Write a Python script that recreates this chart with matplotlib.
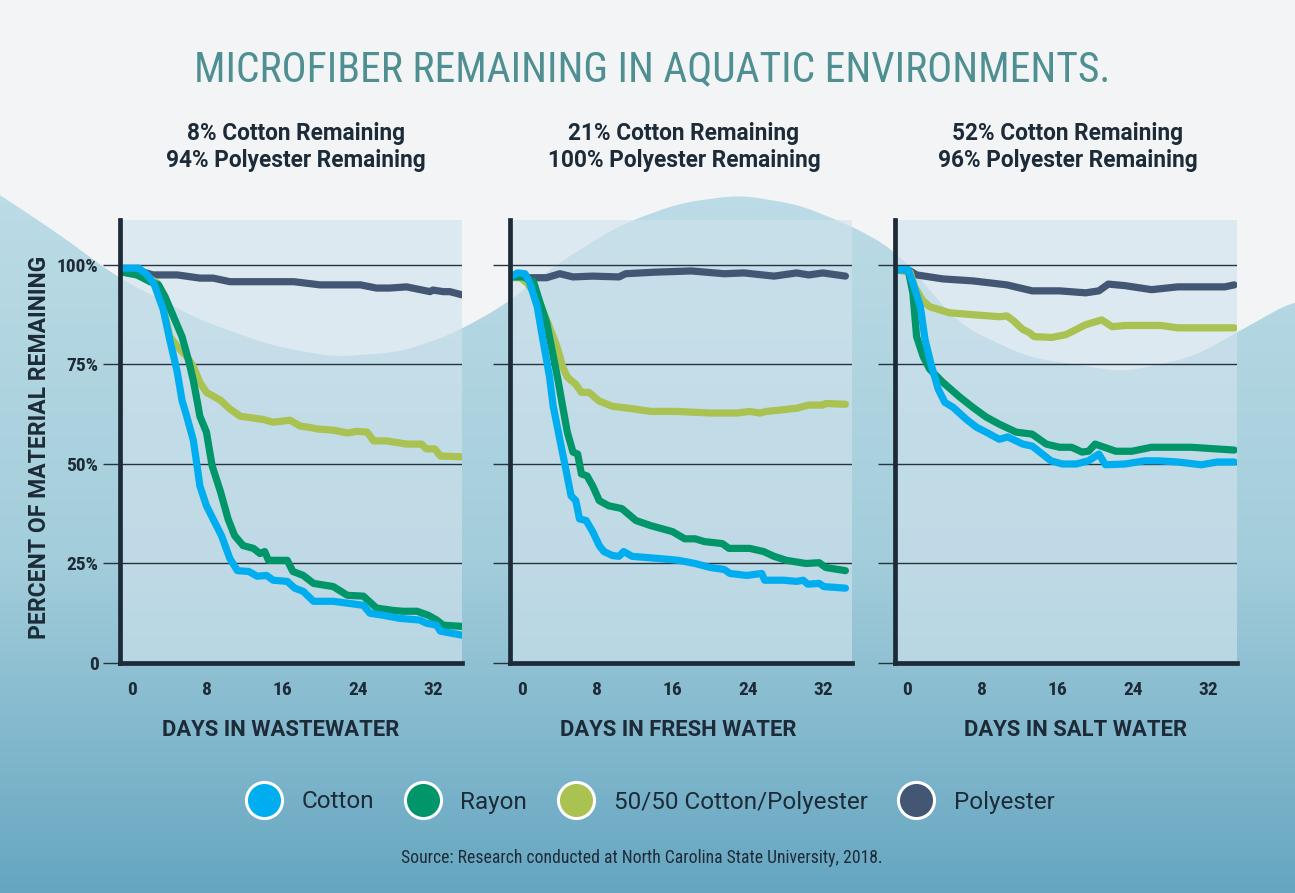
import numpy as np
import matplotlib
matplotlib.use('Agg')
import matplotlib.pyplot as plt
from matplotlib import font_manager
from matplotlib.lines import Line2D

# fonts: pick what is installed
installed = {f.name for f in font_manager.fontManager.ttflist}
def pick(*names):
    for n in names:
        if n in installed:
            return n
    return 'DejaVu Sans'

base_font = pick('Roboto', 'Inter', 'DejaVu Sans')
narrow_font = pick('Roboto Condensed', 'Liberation Sans Narrow', 'Roboto')
plt.rcParams['font.family'] = [base_font, 'DejaVu Sans']

# ---- data (days, percent remaining) ----
series_names = ['Cotton', 'Rayon', '50/50 Cotton/Polyester', 'Polyester']
series_colors = ['#00aeef', '#00966a', '#a9c251', '#435775']

panel_titles = ['8% Cotton Remaining\n94% Polyester Remaining',
                '21% Cotton Remaining\n100% Polyester Remaining',
                '52% Cotton Remaining\n96% Polyester Remaining']
panel_xlabels = ['DAYS IN WASTEWATER', 'DAYS IN FRESH WATER', 'DAYS IN SALT WATER']
x_ticks = [0, 8, 16, 24, 32]
y_ticks = [0, 25, 50, 75, 100]
y_ticklabels = ['0', '25%', '50%', '75%', '100%']

# wastewater
waste_cotton_days = [-1.25, 0.7, 1.6, 2.3, 3.3, 4.0, 4.8, 5.3, 5.8, 6.5, 6.9, 7.2, 7.9, 8.6, 9.5, 10.4, 11.2,
                     12.4, 13.3, 14.3, 15.0, 16.5, 17.3, 18.2, 19.3, 21.4, 24.6, 25.3, 26.7, 28.5, 30.6, 31.3,
                     32.4, 32.8, 35.1]
waste_cotton_pct = [99.2, 99.2, 97.5, 95.4, 88.8, 81.2, 73.0, 66.0, 62.0, 56.0, 49.6, 44.5, 39.5, 36.2, 32.0,
                    26.2, 23.2, 23.0, 21.8, 22.0, 20.8, 20.5, 18.8, 18.0, 15.5, 15.5, 14.5, 12.5, 12.0, 11.2,
                    10.8, 10.0, 9.5, 8.0, 7.0]
waste_rayon_days = [-1.25, 0.5, 1.9, 2.8, 3.5, 4.4, 5.3, 6.0, 6.5, 6.9, 7.2, 7.9, 8.5, 9.4, 10.2, 10.9, 11.8,
                    12.9, 13.6, 14.1, 14.5, 16.5, 17.1, 18.2, 19.3, 21.4, 22.9, 24.6, 26.0, 27.8, 28.8, 30.3,
                    31.5, 32.4, 33.1, 35.1]
waste_rayon_pct = [98.3, 97.5, 95.8, 95.0, 92.0, 87.0, 82.0, 76.0, 71.0, 66.0, 62.0, 58.0, 49.6, 43.0, 36.2,
                   32.0, 29.5, 28.8, 27.5, 28.0, 25.8, 25.8, 23.0, 22.0, 20.0, 19.2, 17.0, 16.8, 13.8, 13.2,
                   13.0, 13.0, 12.0, 10.8, 9.5, 9.2]
waste_blend_days = [-1.25, 1.6, 2.7, 3.3, 4.0, 4.8, 5.8, 6.5, 7.2, 7.9, 9.4, 10.4, 11.5, 13.9, 15.0, 16.8, 17.9,
                    18.9, 19.7, 21.4, 22.9, 23.9, 25.0, 25.7, 27.1, 29.2, 30.8, 31.3, 32.2, 32.8, 35.1]
waste_blend_pct = [98.3, 97.0, 95.4, 89.5, 82.0, 79.5, 77.0, 74.5, 70.5, 68.0, 66.0, 63.8, 62.0, 61.2, 60.5,
                   61.0, 59.5, 59.2, 58.8, 58.5, 57.8, 58.2, 58.0, 55.8, 55.8, 55.0, 55.0, 53.8, 53.8, 52.0, 51.8]
waste_poly_days = [-1.25, 1.2, 2.2, 4.8, 7.2, 8.6, 10.4, 17.2, 20.0, 24.3, 26.0, 27.4, 29.2, 31.7, 32.0, 33.1,
                   33.8, 35.1]
waste_poly_pct = [98.8, 98.2, 97.5, 97.5, 96.7, 96.7, 95.8, 95.8, 95.0, 95.0, 94.2, 94.2, 94.5, 93.3, 93.7,
                  93.3, 93.3, 92.5]

# fresh water
fresh_cotton_days = [-1.25, -0.5, 0.3, 0.8, 1.6, 2.2, 2.9, 3.3, 4.0, 4.7, 5.2, 5.7, 6.1, 6.8, 7.5, 8.2, 8.7,
                     9.6, 10.3, 10.8, 11.7, 14.8, 16.6, 18.4, 20.0, 21.5, 22.1, 23.9, 25.5, 25.8, 27.8, 29.2,
                     29.9, 30.4, 31.6, 32.1, 34.4]
fresh_cotton_pct = [97.0, 98.0, 97.8, 95.5, 89.5, 81.2, 72.0, 64.5, 56.2, 48.0, 42.0, 40.8, 36.2, 35.8, 33.0,
                    29.5, 28.0, 27.0, 26.8, 28.0, 26.8, 26.2, 25.8, 25.0, 24.0, 23.5, 22.5, 22.0, 22.5, 20.8,
                    20.8, 20.5, 20.8, 19.8, 20.0, 19.2, 18.8]
fresh_rayon_days = [-1.25, 0.1, 1.2, 1.9, 2.6, 3.1, 3.8, 4.3, 4.8, 5.4, 5.9, 6.3, 6.9, 7.5, 8.2, 9.2, 10.6, 12.1,
                    13.7, 16.0, 17.3, 18.4, 19.4, 21.3, 22.0, 24.2, 25.7, 26.8, 28.1, 30.2, 31.6, 32.3, 34.4]
fresh_rayon_pct = [97.0, 97.0, 95.8, 90.5, 85.5, 79.5, 71.2, 64.5, 58.0, 53.0, 52.5, 47.5, 47.0, 44.5, 40.8,
                   39.5, 38.8, 35.8, 34.5, 33.0, 31.2, 31.2, 30.5, 30.0, 28.8, 28.8, 28.0, 26.8, 25.8, 25.0,
                   25.2, 24.0, 23.2]
fresh_blend_days = [-1.25, -0.2, 0.5, 1.6, 2.6, 3.7, 4.3, 4.8, 5.7, 6.3, 7.1, 8.2, 9.6, 11.3, 13.7, 16.6, 20.0,
                    22.9, 24.2, 25.3, 26.0, 29.2, 30.5, 32.0, 32.3, 34.4]
fresh_blend_pct = [96.8, 96.8, 95.5, 92.0, 86.2, 79.5, 74.5, 71.8, 70.0, 68.0, 68.0, 65.8, 64.5, 64.0, 63.2,
                   63.2, 62.8, 62.8, 63.2, 62.8, 63.2, 64.0, 64.8, 64.8, 65.2, 65.0]
fresh_poly_days = [-1.25, 0.1, 2.6, 4.0, 5.4, 7.5, 10.3, 11.0, 14.2, 18.0, 21.5, 23.6, 26.8, 29.2, 30.5, 32.0, 34.4]
fresh_poly_pct = [97.5, 96.8, 96.8, 97.8, 97.0, 97.2, 97.0, 97.8, 98.2, 98.5, 97.8, 98.0, 97.2, 98.0, 97.5,
                  98.0, 97.2]

# salt water
salt_cotton_days = [-1.25, 0.1, 0.6, 1.4, 1.9, 2.6, 3.3, 4.0, 4.9, 6.3, 7.4, 8.4, 9.8, 10.7, 12.3, 13.3, 15.3,
                    16.5, 18.0, 19.3, 20.4, 21.1, 23.2, 25.3, 26.7, 28.8, 31.3, 33.0, 34.8]
salt_cotton_pct = [98.8, 98.8, 95.5, 89.5, 81.2, 74.5, 68.8, 65.5, 64.2, 61.2, 59.2, 58.0, 56.2, 56.8, 55.0,
                   54.5, 50.8, 50.0, 50.0, 50.8, 52.5, 49.8, 50.0, 50.8, 50.8, 50.5, 49.8, 50.5, 50.5]
salt_rayon_days = [-1.25, 0.1, 0.6, 1.0, 1.7, 2.4, 3.8, 5.6, 7.0, 8.4, 9.8, 11.6, 13.3, 14.8, 16.2, 17.5, 18.6,
                   19.3, 20.0, 22.2, 23.9, 26.0, 30.2, 34.8]
salt_rayon_pct = [98.8, 98.8, 93.0, 82.0, 77.0, 73.8, 70.5, 66.8, 64.2, 61.8, 60.0, 58.0, 57.5, 55.0, 54.2,
                  54.2, 53.0, 53.2, 55.0, 53.2, 53.2, 54.2, 54.2, 53.5]
salt_blend_days = [-1.25, 0.3, 0.8, 1.6, 2.4, 4.5, 7.0, 9.8, 10.6, 11.2, 12.3, 13.0, 13.5, 15.4, 16.9, 19.0,
                   20.7, 21.8, 23.2, 27.0, 28.8, 34.8]
salt_blend_pct = [98.8, 98.2, 94.5, 91.2, 89.5, 88.0, 87.5, 87.0, 87.2, 86.2, 83.8, 83.0, 82.0, 81.8, 82.5,
                  85.0, 86.2, 84.5, 84.8, 84.8, 84.2, 84.2]
salt_poly_days = [-1.25, 0.3, 1.0, 3.8, 7.0, 10.6, 13.3, 16.2, 19.0, 20.4, 21.4, 23.2, 26.0, 28.8, 31.7, 33.8, 34.8]
salt_poly_pct = [98.8, 98.5, 97.5, 96.5, 96.0, 95.0, 93.5, 93.5, 93.0, 93.5, 95.2, 94.8, 93.8, 94.5, 94.5,
                 94.5, 95.0]

panel_series = [
    [(waste_cotton_days, waste_cotton_pct), (waste_rayon_days, waste_rayon_pct),
     (waste_blend_days, waste_blend_pct), (waste_poly_days, waste_poly_pct)],
    [(fresh_cotton_days, fresh_cotton_pct), (fresh_rayon_days, fresh_rayon_pct),
     (fresh_blend_days, fresh_blend_pct), (fresh_poly_days, fresh_poly_pct)],
    [(salt_cotton_days, salt_cotton_pct), (salt_rayon_days, salt_rayon_pct),
     (salt_blend_days, salt_blend_pct), (salt_poly_days, salt_poly_pct)],
]

# ---- figure ----
W, H = 1295, 893
fig = plt.figure(figsize=(W / 100, H / 100), dpi=100)
dark = '#1d2b38'

# background: blue gradient with a light grey wave on top
bg = fig.add_axes([0, 0, 1, 1], zorder=-10)
bg.set_xlim(0, W)
bg.set_ylim(H, 0)
bg.axis('off')
rows = np.linspace(0, H, 300)
stops_y = [0, 190, 560, 893]
stops_c = [np.array([0xbc, 0xdc, 0xe6]), np.array([0xbc, 0xdc, 0xe6]),
           np.array([0xa3, 0xcd, 0xdb]), np.array([0x66, 0xa6, 0xc1])]
grad = np.zeros((len(rows), 1, 3))
for k in range(3):
    grad[:, 0, k] = np.interp(rows, stops_y, [c[k] for c in stops_c]) / 255
bg.imshow(grad, extent=(0, W, H, 0), aspect='auto')
wave_x = [-40, 0, 60, 117, 200, 270, 333, 400, 450, 500, 560, 620, 680, 740, 800, 860, 897, 960, 1027, 1123, 1193, 1295]
wave_y = [170, 195, 235, 277, 320, 345, 357, 352, 335, 308, 262, 225, 203, 195, 205, 230, 252, 325, 357, 372, 357, 300]
xs = np.arange(-60, W + 61)
ys = np.interp(xs, wave_x, wave_y)
ys = np.convolve(ys, np.ones(41) / 41, mode='same')
keep = (xs >= 0) & (xs <= W)
bg.fill_between(xs[keep], 0, ys[keep], color='#f2f4f6', lw=0)

# title and texts
fig.text(0.5035, 1 - 70 / H, 'MICROFIBER REMAINING IN AQUATIC ENVIRONMENTS.', family=[narrow_font, 'DejaVu Sans'],
         fontsize=30, color='#4f8f92', ha='center', va='center')
fig.text(40 / W, 1 - 447 / H, 'PERCENT OF MATERIAL REMAINING', rotation=90, fontsize=16.5,
         fontweight='bold', color=dark, ha='center', va='center')

ax_left = [120, 510, 895]
ax_width = 342
ax_top, ax_bottom = 220, 663
title_cx = [296, 684, 1068]
xlabel_cx = [281, 678, 1076]

for i in range(3):
    ax = fig.add_axes([ax_left[i] / W, 1 - ax_bottom / H, ax_width / W, (ax_bottom - ax_top) / H])
    ax.set_facecolor((0.82, 0.89, 0.93, 0.62))
    for (days, pct), color in list(zip(panel_series[i], series_colors))[::-1]:
        ax.plot(days, pct, color=color, lw=5.2, solid_capstyle='round', solid_joinstyle='round')
    ax.set_xlim(-1.3, 35.1)
    ax.set_ylim(0, 111.3)
    ax.set_axisbelow(True)
    ax.set_yticks(y_ticks)
    ax.grid(axis='y', color='#26343f', lw=1)
    ax.set_xticks(x_ticks)
    ax.tick_params(axis='y', length=12.5, width=1, color='#26343f', pad=3, labelcolor=dark)
    ax.tick_params(axis='x', length=0, pad=13, labelcolor=dark)
    if i == 0:
        ax.set_yticklabels(y_ticklabels)
    else:
        ax.set_yticklabels([])
    for lab in ax.get_xticklabels() + ax.get_yticklabels():
        lab.set_family([narrow_font, 'DejaVu Sans'])
        lab.set_fontweight('bold')
        lab.set_fontsize(14)
    for s in ['top', 'right']:
        ax.spines[s].set_visible(False)
    for s in ['left', 'bottom']:
        ax.spines[s].set_linewidth(3.4)
        ax.spines[s].set_color(dark)
    fig.text(title_cx[i] / W, 1 - 147 / H, panel_titles[i], fontsize=16.3, fontweight='bold',
             color=dark, ha='center', va='center', linespacing=1.25)
    fig.text(xlabel_cx[i] / W, 1 - 730 / H, panel_xlabels[i], fontsize=15.8, fontweight='bold',
             color=dark, ha='center', va='center')

# legend
handles = [Line2D([], [], ls='none', marker='o', markersize=26, markerfacecolor=c,
                  markeredgecolor='white', markeredgewidth=2.2) for c in series_colors]
fig.legend(handles, series_names, loc='center', bbox_to_anchor=(647 / W, 1 - 802 / H), ncol=4,
           frameon=False, fontsize=17.5, handletextpad=0.55, columnspacing=1.0, labelcolor=dark)

fig.text(642 / W, 1 - 858 / H, 'Source: Research conducted at North Carolina State University, 2018.',
         family=[narrow_font, 'DejaVu Sans'], fontsize=12.7, color=dark, ha='center', va='center')

fig.savefig('out.png', dpi=100)
